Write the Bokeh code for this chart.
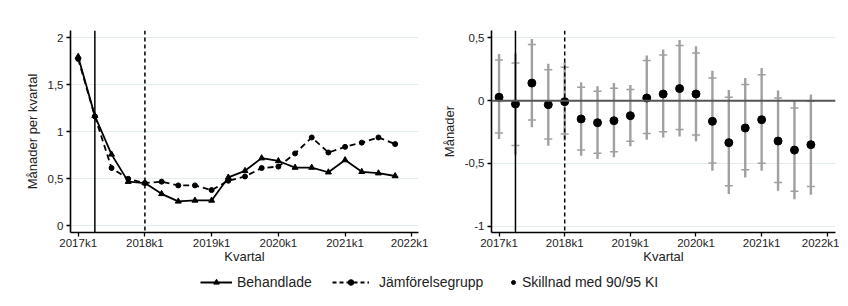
from bokeh.plotting import figure
from bokeh.layouts import column, row
from bokeh.models import (Range1d, FixedTicker, Span, Legend, LegendItem, ColumnDataSource)
from bokeh.embed import file_html
from bokeh.resources import INLINE

# ---------------- data ----------------
quarter_idx = list(range(20))  # 2017k1 .. 2021k4
tick_positions = [0, 4, 8, 12, 16, 20]
tick_labels = ["2017k1", "2018k1", "2019k1", "2020k1", "2021k1", "2022k1"]

behandlade = [1.80, 1.17, 0.76, 0.47, 0.455, 0.34, 0.26, 0.27, 0.27, 0.515,
              0.585, 0.72, 0.69, 0.62, 0.62, 0.57, 0.70, 0.575, 0.56, 0.53]
jamforelse = [1.776, 1.165, 0.615, 0.50, 0.455, 0.47, 0.43, 0.43, 0.38, 0.48,
              0.525, 0.615, 0.63, 0.77, 0.94, 0.78, 0.84, 0.885, 0.94, 0.87]

skillnad = [0.027, -0.027, 0.14, -0.032, -0.008, -0.146, -0.176, -0.16, -0.12, 0.021,
            0.053, 0.096, 0.053, -0.165, -0.335, -0.218, -0.152, -0.322, -0.394, -0.351]
upper95 = [0.372, 0.378, 0.492, 0.293, 0.306, 0.146, 0.114, 0.141, 0.125, 0.359,
           0.407, 0.484, 0.434, 0.239, 0.085, 0.181, 0.261, 0.080, 0.000, 0.048]
upper90 = [0.324, 0.300, 0.447, 0.247, 0.266, 0.106, 0.074, 0.098, 0.088, 0.319,
           0.364, 0.439, 0.380, 0.181, 0.027, 0.128, 0.207, 0.021, -0.059, -0.005]
lower90 = [-0.258, -0.357, -0.154, -0.306, -0.266, -0.394, -0.420, -0.407, -0.324, -0.261,
           -0.247, -0.231, -0.274, -0.497, -0.678, -0.551, -0.500, -0.652, -0.723, -0.684]
lower95 = [-0.306, -0.432, -0.213, -0.359, -0.319, -0.439, -0.465, -0.452, -0.364, -0.311,
           -0.293, -0.285, -0.324, -0.559, -0.745, -0.612, -0.559, -0.718, -0.785, -0.750]

left_yticks = [0, 0.5, 1, 1.5, 2]
left_ylabels = ["0", "0,5", "1", "1,5", "2"]
right_yticks = [-1, -0.5, 0, 0.5]
right_ylabels = ["-1", "-0,5", "0", "0,5"]

legend_labels = ["Behandlade", "Jämförelsegrupp", "Skillnad med 90/95 KI"]

event_solid = 1    # 2017k2
event_dashed = 4   # 2018k1

FONT = "Liberation Sans"
GRID = "#e2ecf0"
GRAY = "#a0a0a0"
TXT = "#222222"


def style(p, yticks, ylabels, ytitle):
    p.xaxis.ticker = FixedTicker(ticks=tick_positions)
    p.xaxis.major_label_overrides = {t: l for t, l in zip(tick_positions, tick_labels)}
    p.yaxis.ticker = FixedTicker(ticks=yticks)
    p.yaxis.major_label_overrides = {t: l for t, l in zip(yticks, ylabels)}
    p.xgrid.visible = False
    p.ygrid.ticker = FixedTicker(ticks=yticks)
    p.ygrid.grid_line_color = GRID
    p.ygrid.grid_line_width = 1.2
    for ax in (p.xaxis[0], p.yaxis[0]):
        ax.axis_line_color = "black"
        ax.axis_line_width = 1.6
        ax.major_tick_line_color = "black"
        ax.major_tick_line_width = 1.3
        ax.major_tick_out = 4
        ax.major_tick_in = 0
        ax.minor_tick_line_color = None
        ax.major_label_text_font = FONT
        ax.major_label_text_font_size = "11.5px"
        ax.major_label_text_color = TXT
        ax.axis_label_text_font = FONT
        ax.axis_label_text_font_style = "normal"
        ax.axis_label_text_color = TXT
        ax.axis_label_text_font_size = "13px"
    p.xaxis.major_label_standoff = 0
    p.xaxis.axis_label_standoff = -3
    p.yaxis.major_label_standoff = 3
    p.yaxis.axis_label_standoff = 5
    p.xaxis.axis_label = "Kvartal"
    p.yaxis.axis_label = ytitle
    p.outline_line_color = None
    p.background_fill_color = "white"
    p.border_fill_color = "white"
    p.add_layout(Span(location=event_solid, dimension="height",
                      line_color="black", line_width=1.5))
    p.add_layout(Span(location=event_dashed, dimension="height",
                      line_color="black", line_width=1.5, line_dash="4 3"))


# ---------------- left panel ----------------
p1 = figure(frame_width=348, frame_height=202, output_backend="svg", toolbar_location=None,
            x_range=Range1d(-0.46, 20.4), y_range=Range1d(-0.071, 2.078),
            min_border_left=70, min_border_right=10, min_border_top=30, min_border_bottom=32)
style(p1, left_yticks, left_ylabels, "Månader per kvartal")

src = ColumnDataSource(dict(x=quarter_idx, b=behandlade, j=jamforelse))
p1.line("x", "j", source=src, line_color="black", line_width=1.8, line_dash="6 4")
p1.scatter("x", "j", source=src, marker="circle", size=5, fill_color="black", line_color="black")
p1.line("x", "b", source=src, line_color="black", line_width=1.8)
p1.scatter("x", "b", source=src, marker="triangle", size=6, fill_color="black", line_color="black")

# ---------------- right panel ----------------
p2 = figure(frame_width=344, frame_height=202, output_backend="svg", toolbar_location=None,
            x_range=Range1d(-0.46, 20.5), y_range=Range1d(-1.051, 0.559),
            min_border_left=63, min_border_right=4, min_border_top=30, min_border_bottom=32)
style(p2, right_yticks, right_ylabels, "Månader")
p2.add_layout(Span(location=0, dimension="width", line_color="#555555", line_width=2), "center")

src2 = ColumnDataSource(dict(x=quarter_idx, s=skillnad, u95=upper95, u90=upper90,
                             l90=lower90, l95=lower95))
p2.segment(x0="x", y0="l95", x1="x", y1="u95", source=src2, line_color=GRAY, line_width=2.4)
p2.scatter("x", "u90", source=src2, marker="dash", size=8, line_color=GRAY, line_width=1.5)
p2.scatter("x", "l90", source=src2, marker="dash", size=8, line_color=GRAY, line_width=1.5)
p2.scatter("x", "s", source=src2, marker="circle", size=8, fill_color="black", line_color="black")

# ---------------- legend strip ----------------
p3 = figure(width=840, height=36, output_backend="svg", toolbar_location=None,
            x_axis_type=None, y_axis_type=None, x_range=Range1d(0, 1), y_range=Range1d(0, 1),
            min_border=0)
p3.outline_line_color = None
p3.xgrid.visible = False
p3.ygrid.visible = False
off = dict(x=[-5], y=[-5])
l1 = p3.line(x=off["x"], y=off["y"], line_color="black", line_width=1.8)
m1 = p3.scatter(x=off["x"], y=off["y"], marker="triangle", size=6, fill_color="black", line_color="black")
l2 = p3.line(x=off["x"], y=off["y"], line_color="black", line_width=1.8, line_dash="4 3")
m2 = p3.scatter(x=off["x"], y=off["y"], marker="circle", size=5, fill_color="black", line_color="black")
m3 = p3.scatter(x=off["x"], y=off["y"], marker="circle", size=7, fill_color="black", line_color="black")

common = dict(orientation="horizontal", glyph_height=14,
              label_text_font=FONT, label_text_font_size="14px", label_text_color=TXT,
              border_line_alpha=0, background_fill_alpha=0, padding=0, margin=0)
leg1 = Legend(items=[LegendItem(label=legend_labels[0], renderers=[l1, m1])],
              location=(200, 12), glyph_width=32, label_standoff=5, **common)
leg2 = Legend(items=[LegendItem(label=legend_labels[1], renderers=[l2, m2])],
              location=(332, 12), glyph_width=37, label_standoff=10, **common)
leg3 = Legend(items=[LegendItem(label=legend_labels[2], renderers=[m3])],
              location=(508, 12), glyph_width=10, label_standoff=4, **common)
for lg in (leg1, leg2, leg3):
    p3.add_layout(lg, "center")

layout = column(row(p1, p2), p3)
open("out.html", "w").write(file_html(layout, INLINE))
